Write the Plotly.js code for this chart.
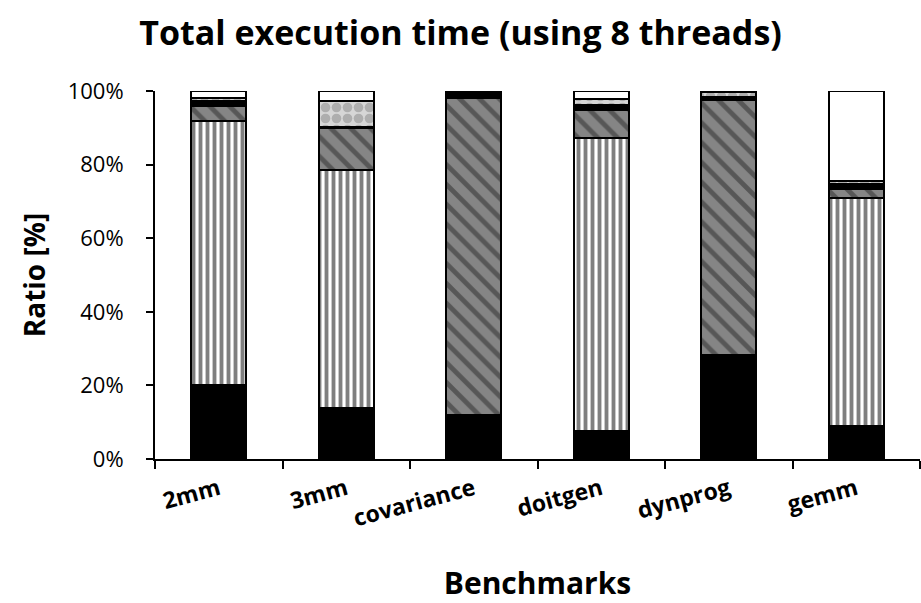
<!DOCTYPE html>
<html><head><meta charset="utf-8">
<script src="https://cdn.plot.ly/plotly-3.0.1.min.js"></script>
<style>body{margin:0;background:#fff}#chart{width:921px;height:603px}</style>
</head><body><div id="chart"></div>
<script>
const categories = ["2mm","3mm","covariance","doitgen","dynprog","gemm"];
const seriesBlack  = [20.2, 13.9, 12.0,  7.6, 28.3,  9.0];
const seriesVert   = [71.6, 64.6,  0.0, 79.6,  0.0, 62.0];
const seriesDiag   = [ 4.2, 11.5, 86.2,  7.6, 69.2,  2.4];
const seriesDark   = [ 1.2,  0.3,  1.8,  1.4,  0.8,  1.4];
const seriesCheck  = [ 0.8,  7.1,  0.0,  1.6,  1.4,  0.7];
const seriesWhite  = [ 2.0,  2.6,  0.0,  2.2,  0.3, 24.5];
const yTicks = [0,20,40,60,80,100];

const FONT = '"Open Sans", sans-serif';
const line = {color:'#000', width:2};
function mk(y, color, pattern){
  const m = {color: color, line: line};
  if (pattern) m.pattern = pattern;
  return {type:'bar', x:categories, y:y, marker:m, width:0.43, hoverinfo:'skip', showlegend:false};
}
const data = [
  mk(seriesBlack, '#000000'),
  mk(seriesVert, '#ffffff', {shape:'|', fgcolor:'#000', bgcolor:'#ffffff', size:7, solidity:0.55, fillmode:'overlay'}),
  mk(seriesDiag, '#858585', {shape:'\\', fgcolor:'#2a2a2a', bgcolor:'#858585', size:14, solidity:0.35, fillmode:'overlay'}),
  mk(seriesDark, '#000000'),
  mk(seriesCheck, '#d6d6d6', {shape:'.', fgcolor:'#858585', bgcolor:'#d6d6d6', size:11, solidity:0.6, fillmode:'overlay'}),
  mk(seriesWhite, '#ffffff')
];
const layout = {
  width:921, height:603, barmode:'stack',
  margin:{l:155, r:1, t:91, b:144},
  paper_bgcolor:'#fff', plot_bgcolor:'#fff',
  font:{family:FONT, color:'#000'},
  title:{text:'<b>Total execution time (using 8 threads)</b>', x:0.5, xanchor:'center', y:0.945, yanchor:'middle', font:{size:34, color:'#000', family:FONT}},
  xaxis:{type:'category', range:[-0.5,5.5], showline:true, linecolor:'#000', linewidth:2, ticks:'outside', tickson:'boundaries', ticklen:8, tickwidth:2, tickcolor:'#000', showgrid:false, zeroline:false,
    ticklabelstandoff:6,
    tickangle:-15, tickfont:{size:23, family:FONT, weight:'bold', color:'#000'},
    title:{text:'<b>Benchmarks</b>', font:{size:30, color:'#000', family:FONT}, standoff:42}},
  yaxis:{range:[0,100], tickvals:yTicks, ticktext:yTicks.map(v=>v+'%'), showline:true, linecolor:'#000', linewidth:2, ticks:'outside', ticklen:7, tickwidth:2, tickcolor:'#000', showgrid:false, zeroline:false,
    ticklabelstandoff:18,
    tickfont:{size:22, color:'#000', family:FONT},
    title:{text:'<b>Ratio [%]</b>', font:{size:28, color:'#000', family:FONT}, standoff:14}}
};
Plotly.newPlot('chart', data, layout, {displayModeBar:false, staticPlot:true});
</script></body></html>
